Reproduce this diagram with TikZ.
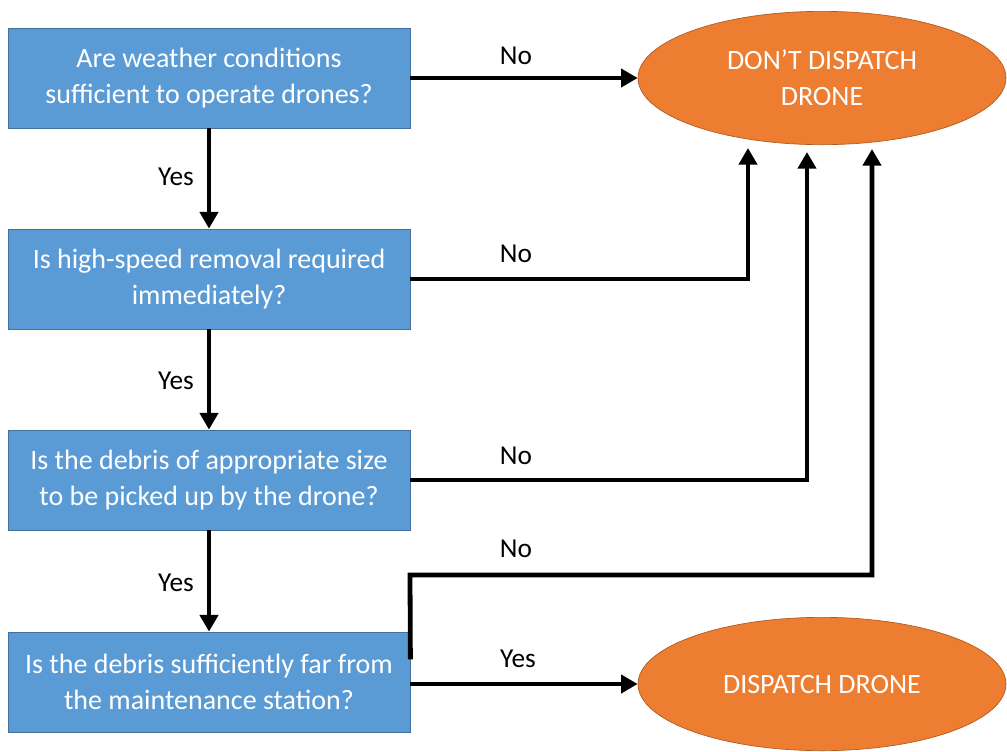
\documentclass[tikz,border=0pt]{standalone}
\usepackage{fontspec}
\setmainfont{Carlito}
\usetikzlibrary{arrows.meta,shapes.geometric}
\definecolor{boxblue}{HTML}{5B9BD5}
\definecolor{boxedge}{HTML}{41719C}
\definecolor{ovalor}{HTML}{ED7D31}
\definecolor{ovaledge}{HTML}{AE5A21}
\tikzset{
  qbox/.style={draw=boxedge, line width=0.6pt, fill=boxblue, text=white, minimum width=301.5pt, minimum height=75pt, inner sep=0pt, align=center, font=\fontsize{21pt}{27pt}\selectfont},
  oval/.style={ellipse, draw=ovaledge, line width=0.5pt, fill=ovalor, text=white, minimum width=276pt, minimum height=100pt, inner sep=0pt, align=center, font=\fontsize{21pt}{27pt}\selectfont},
  conn/.style={line width=3.6pt, -{Triangle[length=12.5pt,width=13.5pt]}},
  lbl/.style={font=\fontsize{20.5pt}{24pt}\selectfont, text=black},
}
\begin{document}
\begin{tikzpicture}[x=0.75pt,y=-0.75pt]
\useasboundingbox (0,0) rectangle (1007,751);
\node[qbox] (b1) at (209,78) {Are weather conditions\\sufficient to operate drones?};
\node[qbox] (b2) at (209,279) {Is high-speed removal required\\immediately?};
\node[qbox] (b3) at (209,480) {Is the debris of appropriate size\\to be picked up by the drone?};
\node[qbox] (b4) at (209,682) {Is the debris sufficiently far from\\the maintenance station?};
\node[oval] (e1) at (822,78) {DON’T DISPATCH\\DRONE};
\node[oval] (e2) at (822,684) {DISPATCH DRONE};
\coordinate (t2) at (748,148);
\coordinate (t3) at (807,152);
\coordinate (t4) at (872,149);
\coordinate (s4) at ([yshift=17pt]b4.east);
\coordinate (k4) at (410,575);
\coordinate (s5) at (410,684);
\draw[conn] (b1.south) -- (b2.north);
\draw[conn] (b2.south) -- (b3.north);
\draw[conn] (b3.south) -- (b4.north);
\draw[conn] (b1.east) -- (e1.west);
\draw[conn] (b2.east) -| (t2);
\draw[conn] (b3.east) -| (t3);
\draw[conn] (s4) -- (k4) -| (t4);
\draw[conn] (s5) -- (e2.west);
\node[lbl] (y1) at (176,177) {Yes};
\node[lbl] (y2) at (176,381) {Yes};
\node[lbl] (y3) at (176,583) {Yes};
\node[lbl] (n1) at (516,56) {No};
\node[lbl] (n2) at (516,254) {No};
\node[lbl] (n3) at (516,456) {No};
\node[lbl] (n4) at (516,549) {No};
\node[lbl] (y4) at (518,659) {Yes};
\end{tikzpicture}
\end{document}
